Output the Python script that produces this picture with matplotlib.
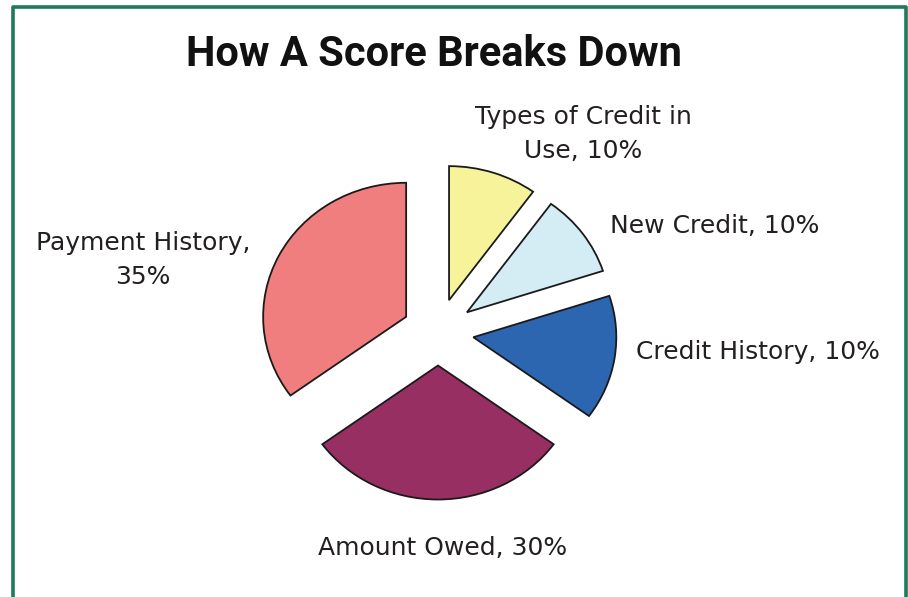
import matplotlib.pyplot as plt

# slice data, clockwise from 12 o'clock
labels = ['Types of Credit in\nUse, 10%', 'New Credit, 10%', 'Credit History, 10%',
          'Amount Owed, 30%', 'Payment History,\n35%']
values = [10, 10, 15, 30, 35]
colors = ['#F7F39B', '#D4ECF3', '#2C66B1', '#982F62', '#F07E7F']
explode = [0.25] * 5

# label anchor points (pixels in the 908x597 image, y from top)
label_x = [583, 715, 758, 443, 143]
label_y = [134, 226, 352, 548, 260]

W, H = 908, 597
fig = plt.figure(figsize=(W / 100, H / 100), dpi=100)

# pie axes: centre at (438, 332) px, radius ~143 px wide, ~134 px tall
cx, cy, rx, ry = 438, 332, 143, 134
half_w, half_h = 2.0, 1.9
ax = fig.add_axes([(cx - half_w * rx) / W, (H - cy - half_h * ry) / H,
                   2 * half_w * rx / W, 2 * half_h * ry / H])
ax.pie(values, colors=colors, explode=explode, startangle=90, counterclock=False,
       wedgeprops=dict(edgecolor='#1a1a1a', linewidth=1.3))
ax.set_aspect('auto')
ax.set_xlim(-half_w, half_w)
ax.set_ylim(-half_h, half_h)
ax.axis('off')

for lab, x, y in zip(labels, label_x, label_y):
    fig.text(x / W, 1 - y / H, lab, ha='center', va='center', fontsize=18,
             color='#231f20', family=['DejaVu Sans'], linespacing=1.55)

fig.text(434 / W, 1 - 55 / H, 'How A Score Breaks Down', ha='center', va='center',
         fontsize=30, fontweight='bold', color='#111111',
         family=['Roboto', 'Liberation Sans', 'DejaVu Sans'])

# green frame (open at the bottom)
green = '#1E7A5A'
fig.add_artist(plt.Line2D([13 / W, 13 / W, 905.5 / W, 905.5 / W],
                          [0, 1 - 6.5 / H, 1 - 6.5 / H, 0],
                          transform=fig.transFigure, color=green, linewidth=2.6))

fig.savefig('out.png', dpi=100)
